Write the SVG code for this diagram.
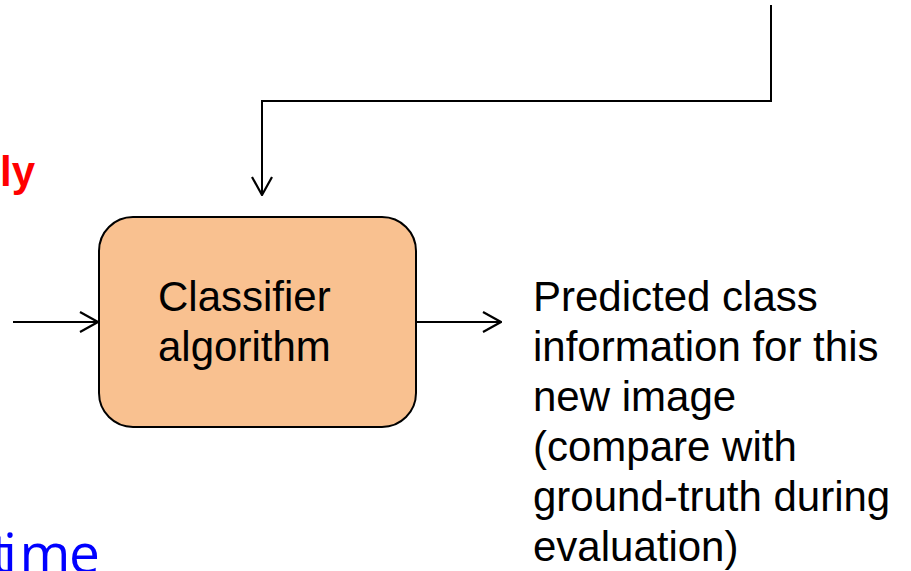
<svg xmlns="http://www.w3.org/2000/svg" width="911" height="571" viewBox="0 0 911 571">
<defs>
<style>
.lbl{font-family:"Liberation Sans",Arial,sans-serif;font-size:42px;fill:#000}
.conn{fill:none;stroke:#000;stroke-width:2}
</style>
<marker id="arr" viewBox="0 0 20 22" refX="19" refY="11" markerWidth="20" markerHeight="22" markerUnits="userSpaceOnUse" orient="auto">
<path d="M1,1 L19,11 L1,21" fill="none" stroke="#000" stroke-width="2.2"/>
</marker>
</defs>
<rect width="911" height="571" fill="#fff"/>
<g id="connectors">
<path class="conn" d="M771,5 V101 H262 V195" marker-end="url(#arr)"/>
<path class="conn" d="M13,322 H98" marker-end="url(#arr)"/>
<path class="conn" d="M416,322 H501" marker-end="url(#arr)"/>
</g>
<g id="classifier">
<rect x="99" y="217" width="317" height="210" rx="34" ry="34" fill="#F9C190" stroke="#000" stroke-width="2"/>
<text class="lbl" x="158" y="311">Classifier</text>
<text class="lbl" x="158" y="361">algorithm</text>
</g>
<g id="output-text">
<text class="lbl" x="533" y="311">Predicted class</text>
<text class="lbl" x="533" y="361">information for this</text>
<text class="lbl" x="533" y="411">new image</text>
<text class="lbl" x="533" y="461">(compare with</text>
<text class="lbl" x="533" y="511">ground-truth during</text>
<text class="lbl" x="533" y="561">evaluation)</text>
</g>
<g id="partial-labels">
<text x="0" y="186" font-family="Liberation Sans,Arial,sans-serif" font-weight="bold" font-size="42" fill="#FF0000">ly</text>
<text x="-9 3 19.5 69" y="573" font-family="Open Sans,DejaVu Sans,sans-serif" font-size="55" fill="#0000FF">time</text>
</g>
</svg>
